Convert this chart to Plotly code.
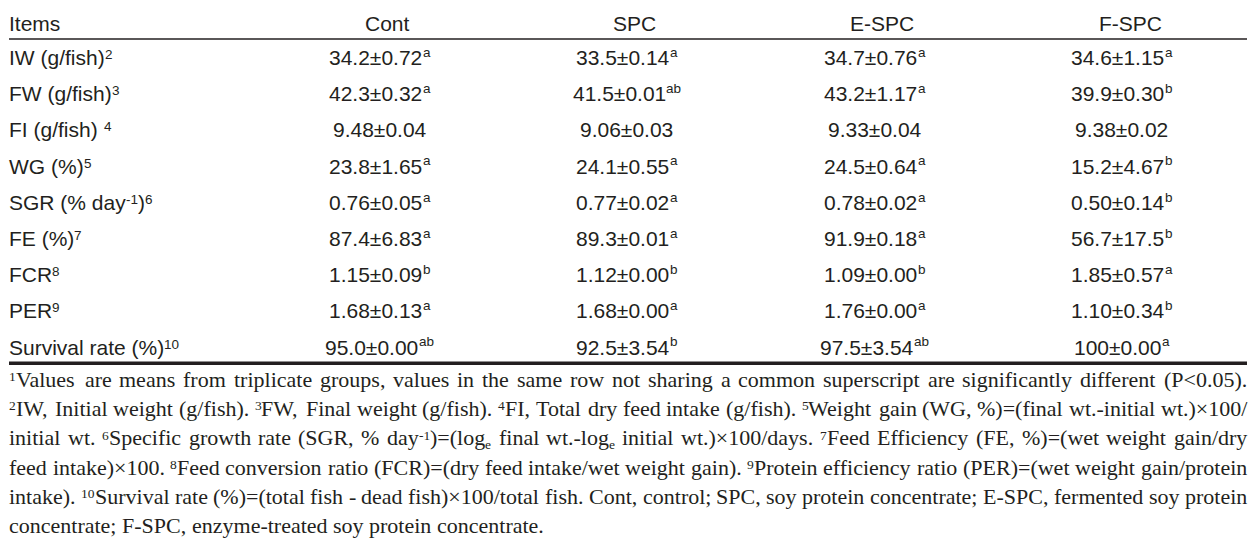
import re
import plotly.graph_objects as go

# ---------------- data ----------------
header_label = "Items"
columns = ["Cont", "SPC", "E-SPC", "F-SPC"]
items = [
    "IW (g/fish)<sup>2</sup>",
    "FW (g/fish)<sup>3</sup>",
    "FI (g/fish) <sup>4</sup>",
    "WG (%)<sup>5</sup>",
    "SGR (% day<sup>-1</sup>)<sup>6</sup>",
    "FE (%)<sup>7</sup>",
    "FCR<sup>8</sup>",
    "PER<sup>9</sup>",
    "Survival rate (%)<sup>10</sup>",
]

cont_mean = ["34.2", "42.3", "9.48", "23.8", "0.76", "87.4", "1.15", "1.68", "95.0"]
cont_sd = ["0.72", "0.32", "0.04", "1.65", "0.05", "6.83", "0.09", "0.13", "0.00"]
cont_sig = ["a", "a", "", "a", "a", "a", "b", "a", "ab"]

spc_mean = ["33.5", "41.5", "9.06", "24.1", "0.77", "89.3", "1.12", "1.68", "92.5"]
spc_sd = ["0.14", "0.01", "0.03", "0.55", "0.02", "0.01", "0.00", "0.00", "3.54"]
spc_sig = ["a", "ab", "", "a", "a", "a", "b", "a", "b"]

espc_mean = ["34.7", "43.2", "9.33", "24.5", "0.78", "91.9", "1.09", "1.76", "97.5"]
espc_sd = ["0.76", "1.17", "0.04", "0.64", "0.02", "0.18", "0.00", "0.00", "3.54"]
espc_sig = ["a", "a", "", "a", "a", "a", "b", "a", "ab"]

fspc_mean = ["34.6", "39.9", "9.38", "15.2", "0.50", "56.7", "1.85", "1.10", "100"]
fspc_sd = ["1.15", "0.30", "0.02", "4.67", "0.14", "17.5", "0.57", "0.34", "0.00"]
fspc_sig = ["a", "b", "", "b", "b", "b", "a", "b", "a"]

footnotes = [
    "<sup>1</sup>Values are means from triplicate groups, values in the same row not sharing a common superscript are significantly different (P&lt;0.05).",
    "<sup>2</sup>IW, Initial weight (g/fish). <sup>3</sup>FW, Final weight (g/fish). <sup>4</sup>FI, Total dry feed intake (g/fish). <sup>5</sup>Weight gain (WG, %)=(final wt.-initial wt.)×100/",
    "initial wt. <sup>6</sup>Specific growth rate (SGR, % day<sup>-1</sup>)=(log<sub>e</sub> final wt.-log<sub>e</sub> initial wt.)×100/days. <sup>7</sup>Feed Efficiency (FE, %)=(wet weight gain/dry",
    "feed intake)×100. <sup>8</sup>Feed conversion ratio (FCR)=(dry feed intake/wet weight gain). <sup>9</sup>Protein efficiency ratio (PER)=(wet weight gain/protein",
    "intake). <sup>10</sup>Survival rate (%)=(total fish - dead fish)×100/total fish. Cont, control; SPC, soy protein concentrate; E-SPC, fermented soy protein",
    "concentrate; F-SPC, enzyme-treated soy protein concentrate.",
]

# ---------------- layout constants ----------------
W, H = 1256, 551
PAGE_MARGIN = 8          # default <body> margin of the written page
LEFT, RIGHT = 9, 1247
INK = "#231f20"
SANS = "Arial, 'Liberation Sans', Helvetica, sans-serif"
SERIF = "'Times New Roman', 'Liberation Serif', Times, serif"

TOP_RULE_Y, HEAD_RULE_Y, BOTTOM_RULE_Y = 4.3, 39.0, 363.3
HEADER_Y = 23.4          # cap-centre of header text
ROW0_Y, ROW_STEP = 57.0, 36.2
COL0_X, COL_STEP = 387.5, 247.5
DATA_DX = -8
FOOT0_Y, FOOT_STEP = 380.0, 29.2

# ---------------- font metrics ----------------
ARIAL_W = {}
ARIAL_W.update(dict(zip("abcdefghijklmnopqrstuvwxyz",
                        [556, 556, 500, 556, 556, 278, 556, 556, 222, 222, 500, 222, 833,
                         556, 556, 556, 556, 333, 500, 278, 556, 500, 722, 500, 500, 500])))
ARIAL_W.update(dict(zip("ABCDEFGHIJKLMNOPQRSTUVWXYZ",
                        [667, 667, 722, 722, 667, 611, 778, 722, 278, 500, 667, 556, 833,
                         722, 778, 667, 778, 722, 667, 611, 722, 667, 944, 667, 667, 611])))
ARIAL_W.update({d: 556 for d in "0123456789"})
ARIAL_W.update({" ": 278, ",": 278, ".": 278, "(": 333, ")": 333, "/": 278, "-": 333,
                "%": 889, "=": 584, "<": 584, ";": 278, ":": 278, "×": 584, "±": 584})

TIMES_W = {}
TIMES_W.update(dict(zip("abcdefghijklmnopqrstuvwxyz",
                        [444, 500, 444, 500, 444, 333, 500, 500, 278, 278, 500, 278, 778,
                         500, 500, 500, 500, 333, 389, 278, 500, 500, 722, 500, 500, 444])))
TIMES_W.update(dict(zip("ABCDEFGHIJKLMNOPQRSTUVWXYZ",
                        [722, 667, 667, 722, 611, 556, 722, 722, 333, 389, 722, 611, 889,
                         722, 722, 556, 722, 667, 556, 611, 722, 722, 944, 722, 722, 611])))
TIMES_W.update({d: 500 for d in "0123456789"})
TIMES_W.update({" ": 250, ",": 250, ".": 250, "(": 333, ")": 333, "/": 278, "-": 333,
                "%": 833, "=": 564, "<": 564, ";": 278, ":": 278, "×": 564, "±": 564})

SANS_STYLE = dict(family=SANS, fs=21, sfs=13.5, table=ARIAL_W, cap2=0.358, desc=0.212,
                  raise_num=5.4, raise_alpha=7.5, drop=3.0)
SERIF_STYLE = dict(family=SERIF, fs=22, sfs=13.5, table=TIMES_W, cap2=0.331, desc=0.216,
                   raise_num=6.0, raise_alpha=7.5, drop=3.5)


def unent(s):
    return s.replace("&lt;", "<").replace("&gt;", ">").replace("&amp;", "&")


def segments(s):
    out = []
    for part in re.split(r"(<su[pb]>.*?</su[pb]>)", s):
        if not part:
            continue
        m = re.match(r"<(su[pb])>(.*?)</su[pb]>", part)
        if m:
            out.append((m.group(1), m.group(2)))
        else:
            out.append(("n", part))
    return out


def seg_w(kind, text, st):
    size = st["fs"] if kind == "n" else st["sfs"]
    return sum(st["table"].get(ch, 500) for ch in unent(text)) / 1000.0 * size


def rich_w(s, st):
    return sum(seg_w(k, t, st) for k, t in segments(s))


fig = go.Figure()


def put(x, cap_y, s, st, align="left"):
    """Draw text (with <sup>/<sub> parts as their own smaller texts) whose
    cap-height centre sits at cap_y."""
    segs = segments(s)
    total = sum(seg_w(k, t, st) for k, t in segs)
    if align == "center":
        x -= total / 2
    elif align == "right":
        x -= total
    base = cap_y + st["cap2"] * st["fs"]
    for kind, t in segs:
        w = seg_w(kind, t, st)
        if t.strip():
            if kind == "n":
                size, bl = st["fs"], base
            elif kind == "sup":
                size = st["sfs"]
                bl = base - (st["raise_alpha"] if t.isalpha() else st["raise_num"])
            else:
                size, bl = st["sfs"], base + st["drop"]
            fig.add_annotation(
                x=x, y=bl + st["desc"] * size, xref="x", yref="y", text=t.rstrip(),
                showarrow=False, xanchor="left", yanchor="bottom",
                borderpad=0, borderwidth=0,
                font=dict(family=st["family"], size=size, color=INK))
        x += w


def cell(mean, sd, sig):
    return f"{mean}±{sd}" + (f"<sup>{sig}</sup>" if sig else "")


series = [
    (cont_mean, cont_sd, cont_sig),
    (spc_mean, spc_sd, spc_sig),
    (espc_mean, espc_sd, espc_sig),
    (fspc_mean, fspc_sd, fspc_sig),
]

col_x = [COL0_X + j * COL_STEP for j in range(len(columns))]
row_y = [ROW0_Y + i * ROW_STEP for i in range(len(items))]

# header
put(LEFT, HEADER_Y, header_label, SANS_STYLE)
for cx, name in zip(col_x, columns):
    put(cx, HEADER_Y, name, SANS_STYLE, align="center")
# row labels
for ry, lab in zip(row_y, items):
    put(LEFT, ry, lab, SANS_STYLE)
# cells
for j, (m, s, g) in enumerate(series):
    for ry, a, b, c in zip(row_y, m, s, g):
        put(col_x[j] + DATA_DX, ry, cell(a, b, c), SANS_STYLE, align="center")

# footnotes (justified like the source, last line ragged)
span = RIGHT - LEFT
for i, line in enumerate(footnotes):
    toks = line.split(" ")
    widths = [rich_w(t, SERIF_STYLE) for t in toks]
    last = i == len(footnotes) - 1
    if last or len(toks) < 2:
        gap = 0.25 * SERIF_STYLE["fs"]
    else:
        gap = (span - sum(widths)) / (len(toks) - 1)
    fy = FOOT0_Y + i * FOOT_STEP
    x = LEFT
    for k, t in enumerate(toks):
        if (not last) and k == len(toks) - 1:
            put(RIGHT, fy, t, SERIF_STYLE, align="right")
        else:
            put(x, fy, t, SERIF_STYLE)
        x += widths[k] + gap

# rules
for y, lw in [(TOP_RULE_Y, 3.4), (HEAD_RULE_Y, 1.3), (BOTTOM_RULE_Y, 3.4)]:
    fig.add_shape(type="line", xref="x", yref="y", x0=LEFT, x1=RIGHT, y0=y, y1=y,
                  line=dict(color=INK, width=lw))

fig.update_layout(
    width=W - PAGE_MARGIN, height=H - PAGE_MARGIN,
    margin=dict(l=0, r=0, t=0, b=0, pad=0),
    paper_bgcolor="white", plot_bgcolor="white",
    showlegend=False,
    xaxis=dict(range=[PAGE_MARGIN, W], visible=False, fixedrange=True),
    yaxis=dict(range=[H, PAGE_MARGIN], visible=False, fixedrange=True),
)

fig.write_html("out.html", config={"displayModeBar": False})
